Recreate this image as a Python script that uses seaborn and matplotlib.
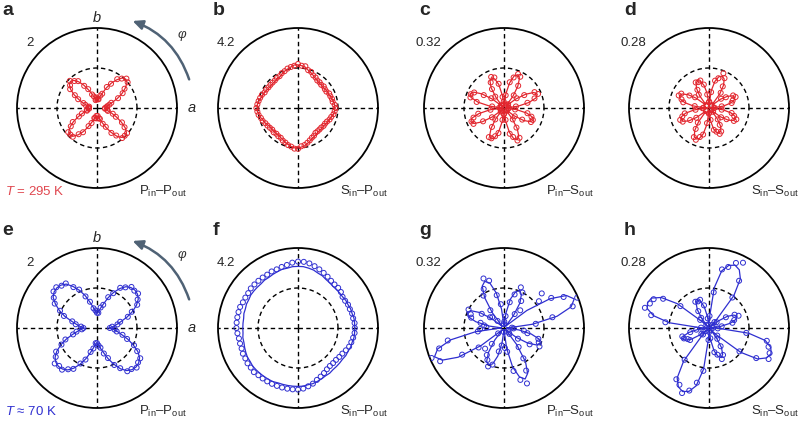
import numpy as np
import pandas as pd
import matplotlib
matplotlib.use('Agg')
import matplotlib.pyplot as plt
from matplotlib.patches import FancyArrowPatch
import seaborn as sns

sns.set_style('white')
plt.rcParams['font.family'] = ['Liberation Sans', 'DejaVu Sans']
plt.rcParams['mathtext.fontset'] = 'custom'
plt.rcParams['mathtext.rm'] = 'Liberation Sans'
plt.rcParams['mathtext.it'] = 'Liberation Sans:italic'
plt.rcParams['mathtext.default'] = 'regular'

# ---------------- data (radius as fraction of the outer ring value) ----------------
angles_axes = list(range(0, 360, 5))                # deg, panels a, b, e, f
angles_petal = [a + 2.5 for a in range(0, 360, 5)]  # deg, panels c, d, g, h

scale_labels = ['2', '4.2', '0.32', '0.28', '2', '4.2', '0.32', '0.28']
mode_labels = ['P$_{in}$–P$_{out}$', 'S$_{in}$–P$_{out}$', 'P$_{in}$–S$_{out}$', 'S$_{in}$–S$_{out}$'] * 2
panel_letters = ['a', 'b', 'c', 'd', 'e', 'f', 'g', 'h']
temperature_labels = ['$\\mathit{T}$ = 295 K', '$\\mathit{T}$ ≈ 70 K']

a_fit = [0.10, 0.11, 0.12, 0.15, 0.20, 0.28, 0.36, 0.43, 0.49, 0.51,
         0.49, 0.43, 0.36, 0.28, 0.20, 0.15, 0.12, 0.11, 0.12,
         0.10, 0.11, 0.14, 0.19, 0.25, 0.33, 0.40, 0.45, 0.47,
         0.45, 0.40, 0.33, 0.25, 0.19, 0.14, 0.11, 0.10, 0.11,
         0.10, 0.12, 0.14, 0.19, 0.26, 0.34, 0.41, 0.46, 0.48,
         0.46, 0.41, 0.34, 0.26, 0.19, 0.14, 0.12, 0.10, 0.12,
         0.11, 0.12, 0.15, 0.20, 0.27, 0.35, 0.43, 0.48, 0.50,
         0.48, 0.43, 0.35, 0.27, 0.20, 0.15, 0.12, 0.11]
a_data = [0.10, 0.12, 0.13, 0.16, 0.19, 0.29, 0.37, 0.42, 0.50, 0.52,
          0.48, 0.44, 0.35, 0.29, 0.19, 0.16, 0.11, 0.11, 0.13,
          0.11, 0.10, 0.15, 0.18, 0.26, 0.32, 0.41, 0.44, 0.48,
          0.44, 0.41, 0.32, 0.26, 0.18, 0.15, 0.10, 0.11, 0.10,
          0.10, 0.13, 0.13, 0.20, 0.25, 0.35, 0.40, 0.47, 0.47,
          0.47, 0.40, 0.35, 0.25, 0.20, 0.13, 0.13, 0.10, 0.13,
          0.10, 0.13, 0.14, 0.21, 0.26, 0.36, 0.42, 0.49, 0.49,
          0.49, 0.42, 0.36, 0.26, 0.21, 0.14, 0.13, 0.10]

b_fit = [0.46, 0.46, 0.45, 0.44, 0.43, 0.42, 0.42, 0.41, 0.41, 0.41,
         0.41, 0.42, 0.43, 0.45, 0.47, 0.49, 0.52, 0.53, 0.54,
         0.54, 0.52, 0.50, 0.49, 0.47, 0.45, 0.45, 0.44, 0.44,
         0.44, 0.44, 0.45, 0.46, 0.47, 0.48, 0.50, 0.51, 0.51,
         0.51, 0.49, 0.48, 0.46, 0.45, 0.43, 0.42, 0.42, 0.42,
         0.42, 0.42, 0.43, 0.44, 0.46, 0.47, 0.49, 0.50, 0.50,
         0.49, 0.48, 0.46, 0.44, 0.42, 0.41, 0.40, 0.39, 0.39,
         0.39, 0.39, 0.40, 0.41, 0.42, 0.43, 0.45, 0.46]
b_data = [0.47, 0.46, 0.44, 0.44, 0.43, 0.43, 0.41, 0.41, 0.42, 0.41,
          0.42, 0.42, 0.44, 0.45, 0.48, 0.49, 0.53, 0.53, 0.55,
          0.53, 0.52, 0.51, 0.49, 0.48, 0.46, 0.46, 0.45, 0.45,
          0.45, 0.45, 0.46, 0.46, 0.48, 0.49, 0.50, 0.51, 0.52,
          0.51, 0.50, 0.48, 0.47, 0.45, 0.44, 0.43, 0.42, 0.43,
          0.42, 0.43, 0.43, 0.45, 0.46, 0.48, 0.49, 0.51, 0.51,
          0.48, 0.47, 0.45, 0.43, 0.41, 0.40, 0.38, 0.38, 0.38,
          0.38, 0.39, 0.39, 0.40, 0.42, 0.43, 0.45, 0.46]

c_fit = [0.04, 0.18, 0.32, 0.42, 0.45, 0.42, 0.32, 0.18, 0.04,
         0.04, 0.18, 0.32, 0.42, 0.45, 0.42, 0.32, 0.18, 0.04,
         0.03, 0.16, 0.30, 0.38, 0.41, 0.38, 0.30, 0.16, 0.03,
         0.04, 0.18, 0.33, 0.43, 0.46, 0.43, 0.33, 0.18, 0.04,
         0.04, 0.18, 0.32, 0.42, 0.45, 0.42, 0.32, 0.18, 0.04,
         0.03, 0.17, 0.30, 0.39, 0.42, 0.39, 0.30, 0.17, 0.03,
         0.03, 0.17, 0.31, 0.40, 0.43, 0.40, 0.31, 0.17, 0.03,
         0.03, 0.16, 0.29, 0.37, 0.40, 0.37, 0.29, 0.16, 0.03]
c_data = [0.06, 0.15, 0.30, 0.40, 0.46, 0.43, 0.30, 0.20, 0.07,
          0.05, 0.20, 0.33, 0.44, 0.46, 0.40, 0.33, 0.16, 0.05,
          0.08, 0.14, 0.31, 0.40, 0.42, 0.36, 0.28, 0.18, 0.04,
          0.05, 0.20, 0.30, 0.42, 0.45, 0.44, 0.35, 0.15, 0.06,
          0.04, 0.17, 0.33, 0.40, 0.44, 0.43, 0.31, 0.19, 0.05,
          0.06, 0.18, 0.28, 0.41, 0.41, 0.37, 0.32, 0.15, 0.08,
          0.07, 0.15, 0.33, 0.38, 0.44, 0.42, 0.29, 0.18, 0.04,
          0.05, 0.17, 0.27, 0.38, 0.39, 0.36, 0.30, 0.14, 0.06]

d_fit = [0.05, 0.18, 0.27, 0.33, 0.35, 0.33, 0.27, 0.18, 0.05,
         0.06, 0.22, 0.34, 0.41, 0.43, 0.41, 0.34, 0.22, 0.06,
         0.06, 0.19, 0.29, 0.35, 0.37, 0.35, 0.29, 0.19, 0.06,
         0.06, 0.20, 0.31, 0.38, 0.40, 0.38, 0.31, 0.20, 0.06,
         0.06, 0.19, 0.30, 0.36, 0.38, 0.36, 0.30, 0.19, 0.06,
         0.06, 0.21, 0.33, 0.40, 0.42, 0.40, 0.33, 0.21, 0.06,
         0.05, 0.17, 0.27, 0.32, 0.34, 0.32, 0.27, 0.17, 0.05,
         0.05, 0.18, 0.28, 0.34, 0.36, 0.34, 0.28, 0.18, 0.05]
d_data = [0.07, 0.16, 0.29, 0.31, 0.36, 0.34, 0.25, 0.19, 0.04,
          0.05, 0.24, 0.32, 0.42, 0.47, 0.39, 0.35, 0.20, 0.08,
          0.07, 0.17, 0.30, 0.36, 0.35, 0.36, 0.27, 0.21, 0.05,
          0.04, 0.22, 0.29, 0.39, 0.41, 0.36, 0.33, 0.18, 0.07,
          0.08, 0.17, 0.31, 0.35, 0.39, 0.37, 0.28, 0.20, 0.05,
          0.05, 0.23, 0.31, 0.41, 0.43, 0.38, 0.34, 0.19, 0.07,
          0.06, 0.15, 0.28, 0.31, 0.35, 0.33, 0.25, 0.18, 0.04,
          0.07, 0.19, 0.26, 0.35, 0.37, 0.33, 0.29, 0.16, 0.06]

e_fit = [0.15, 0.20, 0.25, 0.31, 0.40, 0.49, 0.57, 0.63, 0.66, 0.67,
         0.66, 0.63, 0.57, 0.49, 0.40, 0.31, 0.25, 0.20, 0.18,
         0.21, 0.26, 0.33, 0.43, 0.52, 0.60, 0.67, 0.70, 0.71,
         0.70, 0.67, 0.60, 0.52, 0.43, 0.33, 0.26, 0.21, 0.16,
         0.20, 0.25, 0.32, 0.41, 0.50, 0.58, 0.64, 0.67, 0.68,
         0.67, 0.64, 0.58, 0.50, 0.41, 0.32, 0.25, 0.20, 0.18,
         0.21, 0.26, 0.32, 0.41, 0.50, 0.59, 0.65, 0.68, 0.69,
         0.68, 0.65, 0.59, 0.50, 0.41, 0.32, 0.26, 0.21]
e_data = [0.16, 0.19, 0.26, 0.30, 0.41, 0.48, 0.58, 0.62, 0.67, 0.66,
          0.67, 0.62, 0.58, 0.48, 0.41, 0.30, 0.26, 0.19, 0.19,
          0.22, 0.25, 0.34, 0.42, 0.53, 0.59, 0.68, 0.69, 0.72,
          0.71, 0.66, 0.61, 0.51, 0.44, 0.32, 0.27, 0.20, 0.17,
          0.19, 0.26, 0.31, 0.42, 0.49, 0.59, 0.63, 0.69, 0.67,
          0.68, 0.63, 0.59, 0.49, 0.42, 0.31, 0.26, 0.19, 0.19,
          0.22, 0.25, 0.33, 0.40, 0.51, 0.58, 0.66, 0.67, 0.70,
          0.67, 0.66, 0.58, 0.51, 0.40, 0.33, 0.25, 0.22]

f_fit = [0.71, 0.71, 0.71, 0.70, 0.70, 0.69, 0.69, 0.68, 0.68, 0.68,
         0.68, 0.69, 0.70, 0.72, 0.73, 0.75, 0.76, 0.77, 0.77,
         0.77, 0.76, 0.76, 0.75, 0.74, 0.73, 0.73, 0.72, 0.72,
         0.72, 0.72, 0.71, 0.71, 0.70, 0.70, 0.69, 0.69, 0.69,
         0.69, 0.70, 0.70, 0.71, 0.72, 0.73, 0.73, 0.74, 0.74,
         0.74, 0.74, 0.74, 0.74, 0.73, 0.73, 0.73, 0.73, 0.73,
         0.73, 0.72, 0.72, 0.71, 0.70, 0.69, 0.69, 0.68, 0.68,
         0.68, 0.68, 0.69, 0.69, 0.70, 0.70, 0.71, 0.71]
f_data = [0.71, 0.71, 0.70, 0.70, 0.69, 0.69, 0.68, 0.68, 0.70, 0.71,
          0.71, 0.72, 0.74, 0.76, 0.78, 0.80, 0.82, 0.83, 0.83,
          0.82, 0.80, 0.79, 0.78, 0.78, 0.77, 0.77, 0.77, 0.77,
          0.77, 0.76, 0.76, 0.76, 0.77, 0.77, 0.77, 0.77, 0.77,
          0.76, 0.75, 0.75, 0.75, 0.76, 0.76, 0.77, 0.77, 0.78,
          0.77, 0.77, 0.77, 0.77, 0.77, 0.77, 0.77, 0.77, 0.77,
          0.76, 0.74, 0.72, 0.69, 0.67, 0.65, 0.63, 0.62, 0.62,
          0.62, 0.63, 0.64, 0.66, 0.68, 0.69, 0.70, 0.71]

g_fit = [0.06, 0.36, 0.68, 0.88, 0.95, 0.88, 0.68, 0.36, 0.06,
         0.03, 0.19, 0.37, 0.47, 0.51, 0.47, 0.37, 0.19, 0.03,
         0.04, 0.24, 0.45, 0.59, 0.63, 0.59, 0.45, 0.24, 0.04,
         0.03, 0.19, 0.36, 0.47, 0.50, 0.47, 0.36, 0.19, 0.03,
         0.06, 0.36, 0.68, 0.87, 0.94, 0.87, 0.68, 0.36, 0.06,
         0.03, 0.19, 0.36, 0.47, 0.50, 0.47, 0.36, 0.19, 0.03,
         0.04, 0.26, 0.50, 0.64, 0.69, 0.64, 0.50, 0.26, 0.04,
         0.03, 0.19, 0.35, 0.46, 0.49, 0.46, 0.35, 0.19, 0.03]
g_data = [0.10, 0.40, 0.62, 0.90, 0.99, 0.84, 0.70, 0.55, 0.64,
          0.30, 0.22, 0.40, 0.50, 0.55, 0.44, 0.33, 0.15, 0.08,
          0.05, 0.30, 0.42, 0.62, 0.67, 0.55, 0.48, 0.28, 0.12,
          0.20, 0.22, 0.33, 0.50, 0.45, 0.43, 0.30, 0.25, 0.22,
          0.30, 0.33, 0.72, 0.85, 0.98, 0.90, 0.62, 0.40, 0.10,
          0.35, 0.25, 0.40, 0.45, 0.52, 0.48, 0.30, 0.22, 0.05,
          0.25, 0.30, 0.55, 0.68, 0.75, 0.60, 0.45, 0.30, 0.10,
          0.08, 0.22, 0.38, 0.50, 0.47, 0.45, 0.30, 0.25, 0.12]

h_fit = [0.02, 0.14, 0.27, 0.35, 0.38, 0.35, 0.27, 0.14, 0.02,
         0.13, 0.51, 0.73, 0.82, 0.85, 0.82, 0.73, 0.51, 0.13,
         0.02, 0.14, 0.27, 0.35, 0.38, 0.35, 0.27, 0.14, 0.02,
         0.12, 0.50, 0.71, 0.81, 0.83, 0.81, 0.71, 0.50, 0.12,
         0.02, 0.14, 0.26, 0.33, 0.36, 0.33, 0.26, 0.14, 0.02,
         0.13, 0.52, 0.74, 0.83, 0.86, 0.83, 0.74, 0.52, 0.13,
         0.02, 0.15, 0.29, 0.37, 0.40, 0.37, 0.29, 0.15, 0.02,
         0.13, 0.50, 0.72, 0.81, 0.84, 0.81, 0.72, 0.50, 0.13]
h_data = [0.05, 0.16, 0.30, 0.33, 0.40, 0.36, 0.25, 0.12, 0.06,
          0.10, 0.48, 0.70, 0.92, 0.88, 0.80, 0.75, 0.45, 0.15,
          0.04, 0.12, 0.29, 0.37, 0.36, 0.37, 0.25, 0.16, 0.05,
          0.15, 0.45, 0.68, 0.78, 0.80, 0.84, 0.74, 0.55, 0.10,
          0.03, 0.16, 0.24, 0.35, 0.34, 0.30, 0.28, 0.12, 0.06,
          0.11, 0.50, 0.76, 0.80, 0.88, 0.82, 0.70, 0.54, 0.15,
          0.05, 0.13, 0.31, 0.35, 0.42, 0.38, 0.27, 0.17, 0.03,
          0.14, 0.48, 0.70, 0.84, 0.82, 0.78, 0.74, 0.47, 0.11]

fits = [a_fit, b_fit, c_fit, d_fit, e_fit, f_fit, g_fit, h_fit]
datas = [a_data, b_data, c_data, d_data, e_data, f_data, g_data, h_data]
grids = [angles_axes, angles_axes, angles_petal, angles_petal] * 2

RED = '#e2262e'
BLUE = '#2f2fd0'
T_RED = '#e0474f'
ARROW = '#4f6275'

W, H = 800, 421
fig = plt.figure(figsize=(8, 4.21), dpi=100)
fig.patch.set_facecolor('white')


def fx(x):
    return x / W


def fy(y):
    return 1 - y / H


cxs = [97, 298, 504, 709]
cys = [108, 328]
R = 80
dash = (0, (3.2, 2.4))

for i in range(8):
    row, col = divmod(i, 4)
    cx, cy = cxs[col], cys[row]
    color = RED if row == 0 else BLUE
    ax = fig.add_axes([(cx - R) / W, (H - cy - R) / H, 2 * R / W, 2 * R / H],
                      projection='polar')
    ax.set_facecolor('none')
    ax.set_ylim(0, 1)
    ax.set_yticks([0.5])
    ax.set_yticklabels([])
    ax.set_xticks(np.deg2rad([0, 90, 180, 270]))
    ax.set_xticklabels([])
    ax.grid(True, color='black', linestyle=dash, linewidth=1.0)
    ax.spines['polar'].set_linewidth(1.3)
    ax.spines['polar'].set_color('black')
    ax.tick_params(length=0, pad=0)

    th = np.deg2rad(np.array(grids[i], dtype=float))
    fit = np.array(fits[i], dtype=float)
    dat = np.array(datas[i], dtype=float)
    df_fit = pd.DataFrame({'theta': np.append(th, th[0] + 2 * np.pi),
                           'r': np.append(fit, fit[0])})
    df_dat = pd.DataFrame({'theta': th, 'r': dat})

    sns.lineplot(data=df_fit, x='theta', y='r', sort=False, estimator=None,
                 ax=ax, color=color, linewidth=0.9, zorder=3)
    sns.scatterplot(data=df_dat, x='theta', y='r', ax=ax, color=color,
                    s=13, linewidth=0.7, edgecolor=color, zorder=4)
    ax.collections[-1].set_facecolor('none')
    ax.collections[-1].set_edgecolor(color)
    ax.set_xlabel('')
    ax.set_ylabel('')
    ax.set_ylim(0, 1)

    y0 = row * 220
    # panel letter
    fig.text(fx(2 if col == 0 else cx - 85), fy(y0 + 15), panel_letters[i],
             fontsize=14, fontweight='bold', ha='left', va='baseline')
    # scale value of the outer ring
    fig.text(fx(cx - 63), fy(y0 + 46), scale_labels[i], fontsize=9.5,
             ha='right', va='baseline')
    # polarisation configuration
    fig.text(fx(cx + 90), fy(y0 + 195), mode_labels[i], fontsize=9.5,
             ha='right', va='baseline')

    if col == 0:
        fig.text(fx(5), fy(y0 + 195), temperature_labels[row], fontsize=9.5,
                 color=T_RED if row == 0 else BLUE, ha='left', va='baseline')
        fig.text(fx(cx), fy(y0 + 22), 'b', fontsize=10.5, style='italic',
                 ha='center', va='baseline')
        fig.text(fx(cx + 91), fy(y0 + 108), 'a', fontsize=10.5, style='italic',
                 ha='left', va='center')
        fig.text(fx(182), fy(y0 + 35), 'φ', fontsize=9.5, style='italic',
                 ha='center', va='center', color='#333333')
        arrow = FancyArrowPatch(posA=(fx(190), fy(y0 + 82)), posB=(fx(130), fy(y0 + 20)),
                                transform=fig.transFigure,
                                connectionstyle='arc3,rad=0.25',
                                arrowstyle='-|>,head_length=6,head_width=2.8',
                                color=ARROW, linewidth=1.8, mutation_scale=1)
        fig.add_artist(arrow)

fig.savefig('out.png', dpi=100, facecolor='white')
